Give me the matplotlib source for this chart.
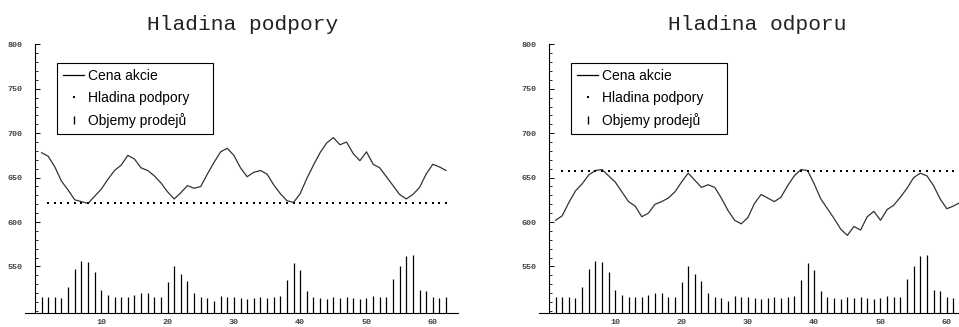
import numpy as np
import matplotlib
matplotlib.use("Agg")
import matplotlib.pyplot as plt
from matplotlib.lines import Line2D
from matplotlib.ticker import MultipleLocator

# ================= DATA =================
days = np.arange(1, 63)

price_support = [678, 674, 662, 646, 636, 625, 623, 621, 629, 637,
                 648, 658, 664, 675, 671, 661, 658, 652, 644, 634,
                 626, 633, 641, 638, 640, 654, 667, 679, 683, 675,
                 661, 651, 656, 658, 654, 642, 632, 624, 622, 632,
                 649, 664, 678, 689, 695, 687, 690, 677, 669, 679,
                 665, 661, 651, 641, 631, 626, 631, 639, 654, 665,
                 662, 658]

price_resist = [602, 607, 622, 635, 643, 653, 658, 659, 652, 645,
                634, 623, 618, 606, 610, 620, 623, 627, 634, 645,
                655, 647, 639, 642, 639, 627, 613, 602, 598, 605,
                621, 631, 627, 623, 628, 641, 652, 659, 658, 643,
                626, 615, 604, 592, 585, 595, 591, 606, 612, 602,
                614, 619, 628, 638, 650, 655, 652, 641, 626, 615,
                618, 622]

volumes = [516, 516, 516, 515, 527, 547, 556, 555, 544, 523,
           518, 516, 516, 516, 518, 520, 520, 516, 516, 533,
           550, 541, 534, 520, 516, 514, 511, 517, 516, 516,
           515, 513, 515, 516, 514, 516, 517, 535, 554, 546,
           522, 516, 515, 513, 516, 515, 516, 514, 513, 515,
           517, 516, 516, 536, 550, 562, 563, 524, 522, 516,
           514, 516]

support_level = 621
resist_level = 658
level_days = np.arange(2, 63)
VOL_BASE = 498

titles = ["Hladina podpory", "Hladina odporu"]
labels = ["Cena akcie", "Hladina podpory", "Objemy prodejů"]
# =========================================

W, H = 959, 327
fig = plt.figure(figsize=(W / 100, H / 100), dpi=100)


def draw_panel(left_px, title, price, level):
    ax = fig.add_axes([left_px / W, 14.3 / H, 433 / W, 268.4 / H])
    ax.set_xlim(-1.5, 63.8)
    ax.set_ylim(VOL_BASE, 800)

    ax.vlines(days, VOL_BASE, volumes, color="black", lw=0.9)
    ax.plot(days, price, color="#333333", lw=0.9)
    ax.plot(level_days, np.full(len(level_days), level), ls="none",
            marker="s", ms=1.5, color="black", mew=0)

    for s in ["top", "right"]:
        ax.spines[s].set_visible(False)
    ax.spines["left"].set_position(("data", 0))
    ax.spines["left"].set_linewidth(0.8)
    ax.spines["bottom"].set_linewidth(0.8)

    ax.yaxis.set_minor_locator(MultipleLocator(10))
    ax.set_yticks([550, 600, 650, 700, 750, 800])
    ax.set_xticks([10, 20, 30, 40, 50, 60])
    ax.tick_params(axis="y", which="major", direction="in", length=3.5,
                   width=0.7, pad=9, labelsize=6, labelcolor="#444444")
    ax.tick_params(axis="y", which="minor", direction="in", length=2,
                   width=0.6)
    ax.tick_params(axis="x", which="major", direction="in", length=2,
                   width=0.6, pad=4.5, labelsize=6, labelcolor="#444444")
    for t in ax.get_xticklabels() + ax.get_yticklabels():
        t.set_family("Liberation Mono")
        t.set_fontweight("bold")

    cx = (left_px + 8 + 210) / W
    fig.text(cx, 1 - 30 / H, title, ha="center", va="baseline",
             family="Liberation Mono", fontsize=15.3, color="#222222")

    handles = [
        Line2D([], [], color="black", lw=0.9),
        Line2D([], [], ls="none", marker="s", ms=1.6, mew=0, color="black"),
        Line2D([], [], ls="none", marker="|", ms=6, mew=1.0, color="black"),
    ]
    box_left = left_px + 32
    leg = ax.legend(handles, labels, loc="upper left",
                    bbox_to_anchor=(box_left / W, 1 - 134 / H, 156 / W, 71 / H),
                    bbox_transform=fig.transFigure, mode="expand",
                    borderaxespad=0, borderpad=0.45, labelspacing=0.55,
                    handlelength=1.5, handletextpad=0.3, fancybox=False,
                    framealpha=1, edgecolor="black",
                    prop={"family": "Liberation Sans", "size": 10})
    leg.get_frame().set_linewidth(0.8)
    return ax


draw_panel(25, titles[0], price_support, support_level)
draw_panel(539, titles[1], price_resist, resist_level)

fig.savefig("out.png", dpi=100)
